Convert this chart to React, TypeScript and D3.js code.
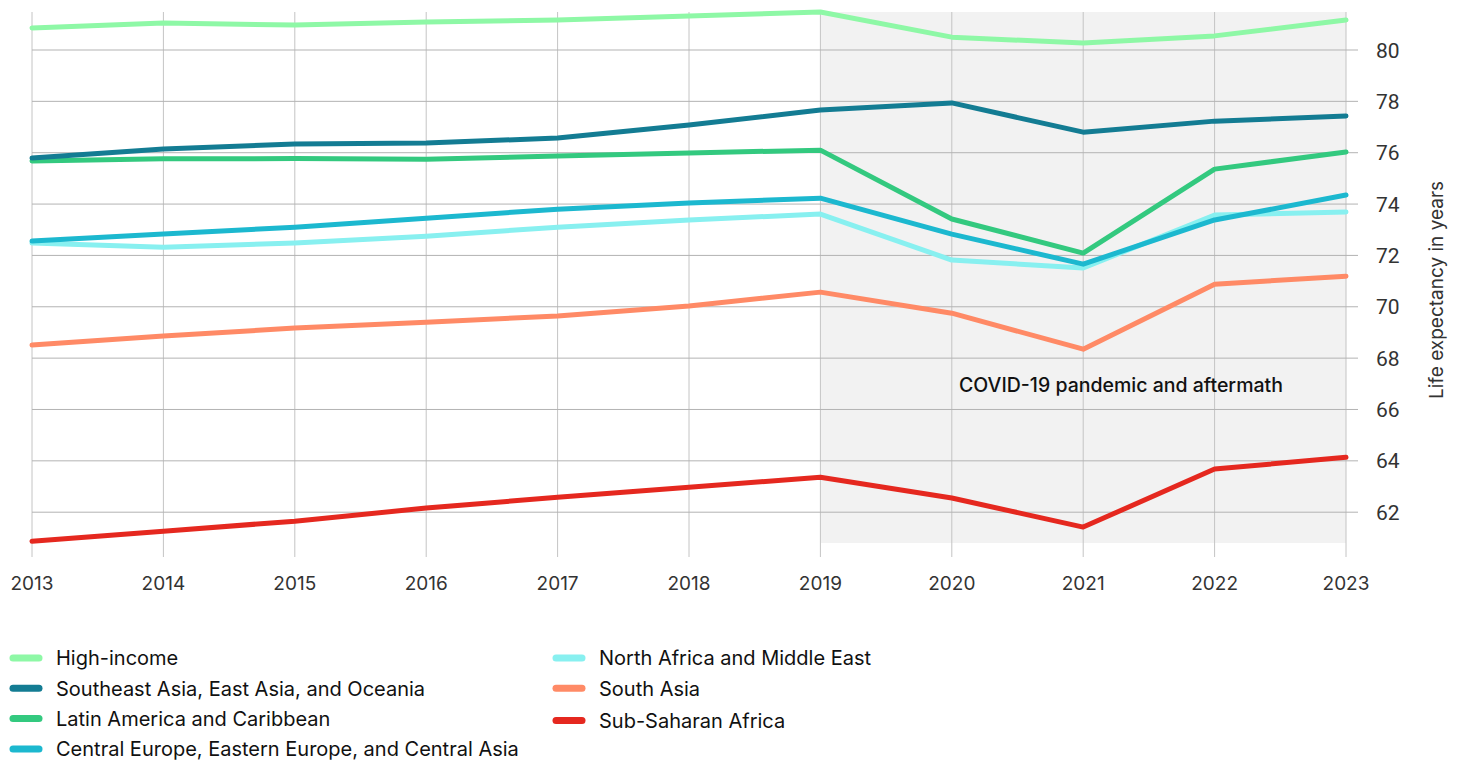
import React from "react";
import { scaleLinear, line, curveLinear } from "d3";

const years = [2013, 2014, 2015, 2016, 2017, 2018, 2019, 2020, 2021, 2022, 2023];
const yTicks = [62, 64, 66, 68, 70, 72, 74, 76, 78, 80];

const highIncome = [80.86, 81.05, 80.97, 81.09, 81.17, 81.32, 81.48, 80.5, 80.27, 80.55, 81.17];
const seAsia = [75.79, 76.14, 76.34, 76.38, 76.57, 77.08, 77.66, 77.94, 76.8, 77.23, 77.43];
const latinAmerica = [75.68, 75.76, 75.77, 75.75, 75.87, 75.99, 76.1, 73.42, 72.09, 75.36, 76.03];
const centralEurope = [72.56, 72.83, 73.1, 73.45, 73.8, 74.04, 74.23, 72.83, 71.66, 73.38, 74.35];
const northAfrica = [72.48, 72.32, 72.48, 72.75, 73.1, 73.38, 73.61, 71.82, 71.51, 73.57, 73.69];
const southAsia = [68.51, 68.86, 69.17, 69.4, 69.64, 70.03, 70.57, 69.75, 68.35, 70.88, 71.19];
const subSaharan = [60.87, 61.26, 61.65, 62.16, 62.58, 62.97, 63.36, 62.55, 61.42, 63.68, 64.14];

const series = [
  { name: "High-income", color: "#8ef8a6", values: highIncome },
  { name: "Southeast Asia, East Asia, and Oceania", color: "#137c93", values: seAsia },
  { name: "Latin America and Caribbean", color: "#33c97f", values: latinAmerica },
  { name: "Central Europe, Eastern Europe, and Central Asia", color: "#1cb8cf", values: centralEurope },
  { name: "North Africa and Middle East", color: "#88f0f0", values: northAfrica },
  { name: "South Asia", color: "#ff8a66", values: southAsia },
  { name: "Sub-Saharan Africa", color: "#e5281f", values: subSaharan },
];

// draw order: lighter lines under darker ones roughly like the original
const drawOrder = [0, 2, 1, 4, 3, 5, 6];

const covidStart = 2019;
const covidEnd = 2023;

const sans = "Inter, 'Noto Sans', sans-serif";

export default function App() {
  const width = 1458;
  const height = 761;

  const x = scaleLinear().domain([2013, 2023]).range([32, 1346]);
  const y = scaleLinear().domain([60.8, 81.48]).range([543, 12]);

  const path = line<number>()
    .x((d, i) => x(years[i]))
    .y((d) => y(d))
    .curve(curveLinear);

  const [y0, y1] = y.domain();
  const legendCols = [series.slice(0, 4), series.slice(4)];

  return (
    <svg
      width={width}
      height={height}
      style={{ position: "absolute", left: 0, top: 0, background: "#fff" }}
    >
      <rect
        x={x(covidStart)}
        y={y(y1)}
        width={x(covidEnd) - x(covidStart)}
        height={y(y0) - y(y1)}
        fill="#f2f2f2"
      />
      {years.map((yr) => (
        <line
          key={yr}
          x1={x(yr)}
          x2={x(yr)}
          y1={y(y1)}
          y2={557}
          stroke="#c4c4c4"
          strokeWidth={1}
        />
      ))}
      {yTicks.map((t) => (
        <line
          key={t}
          x1={x(2013)}
          x2={1358}
          y1={y(t)}
          y2={y(t)}
          stroke="#b3b3b3"
          strokeWidth={1}
        />
      ))}
      {yTicks.map((t) => (
        <text
          key={t}
          x={1376}
          y={y(t)}
          dy="0.36em"
          fontFamily="'Liberation Sans Narrow', Roboto, sans-serif"
          fontSize={21}
          fill="#333"
        >
          {t}
        </text>
      ))}
      {years.map((yr) => (
        <text
          key={yr}
          x={x(yr)}
          y={590}
          textAnchor="middle"
          fontFamily={sans}
          fontSize={19}
          fill="#333"
        >
          {yr}
        </text>
      ))}
      <text
        transform="translate(1443, 290) rotate(-90)"
        textAnchor="middle"
        fontFamily={sans}
        fontSize={19}
        fill="#333"
      >
        Life expectancy in years
      </text>
      <text
        x={1121}
        y={392}
        textAnchor="middle"
        fontFamily={sans}
        fontSize={19.5}
        fontWeight={500}
        fill="#111"
      >
        COVID-19 pandemic and aftermath
      </text>
      {drawOrder.map((i) => (
        <path
          key={series[i].name}
          d={path(series[i].values) || ""}
          fill="none"
          stroke={series[i].color}
          strokeWidth={5}
          strokeLinecap="round"
          strokeLinejoin="round"
        />
      ))}
      {legendCols.map((col, ci) =>
        col.map((s, ri) => {
          const lx = ci === 0 ? 13 : 556;
          const ly = 658 + ri * 30.3 + (ci === 1 && ri === 2 ? 2 : 0);
          return (
            <g key={s.name} transform={`translate(${lx}, ${ly})`}>
              <line x1={0} x2={26} y1={0} y2={0} stroke={s.color} strokeWidth={7} strokeLinecap="round" />
              <text
                x={43}
                y={0}
                dy="0.36em"
                fontFamily={sans}
                fontSize={20}
                fill="#111"
              >
                {s.name}
              </text>
            </g>
          );
        })
      )}
    </svg>
  );
}
